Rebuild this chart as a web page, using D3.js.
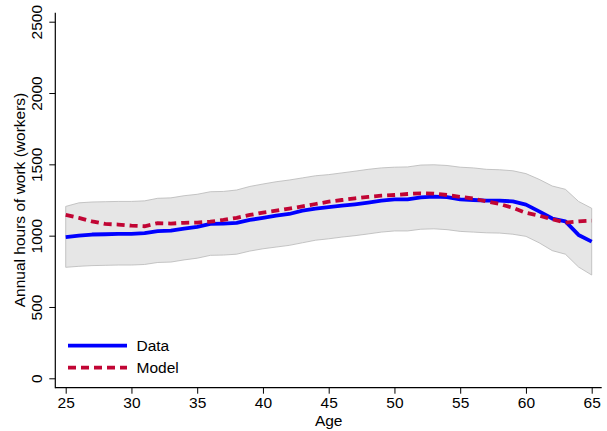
<!DOCTYPE html>
<html>
<head>
<meta charset="utf-8">
<script src="https://cdn.jsdelivr.net/npm/d3@7"></script>
<style>
  body { margin: 0; background: #fff; }
  text { font-family: "Liberation Sans", Arial, Helvetica, sans-serif; fill: #000; }
</style>
</head>
<body>
<svg id="chart" width="607" height="431"></svg>
<script>
const ages = d3.range(25, 66);

const dataHours = [990, 1000, 1008, 1010, 1012, 1012, 1018, 1032, 1035, 1050,
    1062, 1082, 1085, 1090, 1110, 1125, 1140, 1152, 1175, 1190,
    1200, 1210, 1220, 1232, 1245, 1255, 1255, 1268, 1273, 1270,
    1255, 1250, 1245, 1245, 1240, 1218, 1170, 1120, 1100, 1005, 958];

const modelHours = [1145, 1125, 1100, 1082, 1078, 1070, 1066, 1088, 1085, 1090,
    1092, 1098, 1110, 1125, 1145, 1162, 1175, 1190, 1205, 1222,
    1238, 1250, 1262, 1272, 1280, 1285, 1292, 1297, 1294, 1285,
    1272, 1260, 1240, 1222, 1195, 1160, 1140, 1115, 1092, 1100, 1105];

const bandUpper = [1205, 1230, 1236, 1238, 1240, 1240, 1244, 1262, 1265, 1280,
    1290, 1308, 1310, 1320, 1345, 1362, 1378, 1390, 1405, 1420,
    1428, 1440, 1452, 1465, 1475, 1480, 1482, 1495, 1497, 1492,
    1480, 1475, 1465, 1462, 1455, 1435, 1395, 1348, 1325, 1240, 1192];

const bandLower = [778, 785, 790, 792, 794, 794, 798, 812, 815, 830,
    842, 862, 864, 870, 892, 908, 920, 932, 950, 968,
    978, 990, 1000, 1012, 1025, 1033, 1033, 1045, 1048, 1042,
    1030, 1025, 1020, 1018, 1010, 995, 950, 895, 870, 780, 724];

const xTicks = [25, 30, 35, 40, 45, 50, 55, 60, 65];
const yTicks = [0, 500, 1000, 1500, 2000, 2500];

const svg = d3.select("#chart");
const fontSize = "15.5px";

const x = d3.scaleLinear().domain([25, 65]).range([65.7, 591.7]);
const y = d3.scaleLinear().domain([0, 2500]).range([378.3, 21.7]);

// confidence band
const area = d3.area()
    .x((d, i) => x(ages[i]))
    .y0((d, i) => y(bandLower[i]))
    .y1((d, i) => y(bandUpper[i]));
svg.append("path")
    .datum(ages)
    .attr("d", area)
    .attr("fill", "#e6e6e6")
    .attr("stroke", "#b8b8b8")
    .attr("stroke-width", 0.8);

// lines
const line = d3.line()
    .x((d, i) => x(ages[i]))
    .y(d => y(d));

svg.append("path")
    .datum(dataHours)
    .attr("d", line)
    .attr("fill", "none")
    .attr("stroke", "#0000ff")
    .attr("stroke-width", 3.8)
    .attr("stroke-linejoin", "round");

svg.append("path")
    .datum(modelHours)
    .attr("d", line)
    .attr("fill", "none")
    .attr("stroke", "#c10534")
    .attr("stroke-width", 3.8)
    .attr("stroke-dasharray", "8,5");

// axes
const xAxis = svg.append("g")
    .attr("transform", "translate(0,387.7)")
    .call(d3.axisBottom(x).tickValues(xTicks).tickFormat(d3.format("d"))
        .tickSize(6).tickPadding(3).tickSizeOuter(0));
xAxis.select(".domain").remove();
xAxis.append("line")
    .attr("x1", 55.3).attr("x2", 601.7)
    .attr("stroke", "#000").attr("stroke-width", 1.2);
xAxis.selectAll("text").style("font-size", fontSize).attr("fill", "#000");

const yAxis = svg.append("g")
    .attr("transform", "translate(55.3,0)")
    .call(d3.axisLeft(y).tickValues(yTicks).tickFormat(d3.format("d"))
        .tickSize(6).tickSizeOuter(0));
yAxis.select(".domain").remove();
yAxis.append("line")
    .attr("y1", 12.7).attr("y2", 388.3)
    .attr("stroke", "#000").attr("stroke-width", 1.2);
yAxis.selectAll(".tick text")
    .style("font-size", fontSize)
    .attr("fill", "#000")
    .attr("x", null).attr("dy", null)
    .attr("text-anchor", "middle")
    .attr("transform", "translate(-13,0) rotate(-90)");

// axis titles
svg.append("text")
    .attr("x", x(45))
    .attr("y", 426)
    .attr("text-anchor", "middle")
    .style("font-size", fontSize)
    .text("Age");

svg.append("text")
    .attr("transform", `translate(25,${y(1250)}) rotate(-90)`)
    .attr("text-anchor", "middle")
    .style("font-size", fontSize)
    .text("Annual hours of work (workers)");

// legend
const legend = [
    { label: "Data", color: "#0000ff", dash: null, ly: 345.7 },
    { label: "Model", color: "#c10534", dash: "8,5", ly: 367.7 }
];
const lg = svg.append("g");
legend.forEach(l => {
    lg.append("line")
        .attr("x1", 68).attr("x2", 127)
        .attr("y1", l.ly).attr("y2", l.ly)
        .attr("stroke", l.color)
        .attr("stroke-width", 3.8)
        .attr("stroke-dasharray", l.dash);
    lg.append("text")
        .attr("x", 136.5)
        .attr("y", l.ly + 5.5)
        .style("font-size", fontSize)
        .text(l.label);
});
</script>
</body>
</html>
